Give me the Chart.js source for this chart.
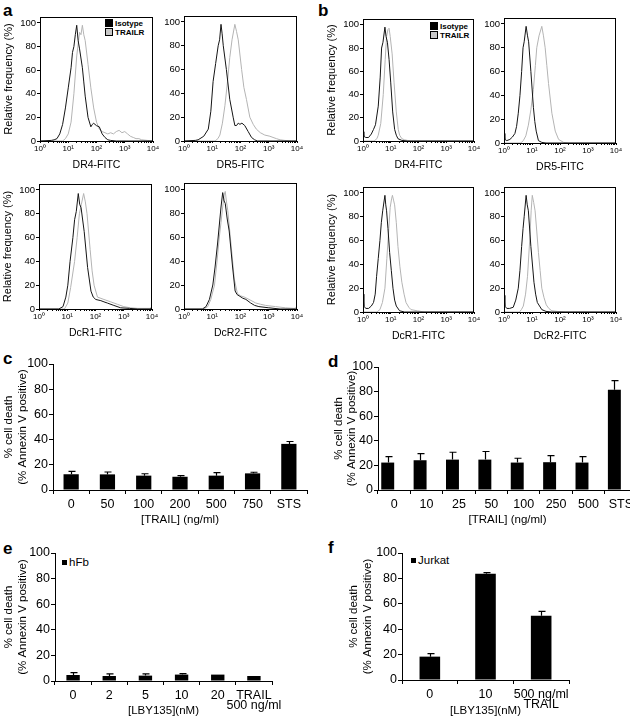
<!DOCTYPE html>
<html lang="en">
<head>
<meta charset="UTF-8">
<title>TRAIL receptors and cell death</title>
<script src="https://cdn.jsdelivr.net/npm/chart.js"></script>
<style>
  body { margin: 0; background: #fff; }
  #page { position: relative; width: 630px; height: 721px; overflow: hidden;
          font-family: "Liberation Sans", Arial, sans-serif; color: #000; }
  #page canvas { position: absolute; }
  .tag { position: absolute; font-weight: bold; font-size: 17px; line-height: 17px; }
  .key { position: absolute; font-size: 8px; font-weight: bold; line-height: 9px; white-space: nowrap; color: #000; }
  .key i { display: inline-block; width: 6px; height: 6px; border: 1px solid #000; margin-right: 2px; vertical-align: -1px; }
  .lg { position: absolute; font-size: 11.5px; line-height: 12px; white-space: nowrap; color: #000; }
  .lg i { display: inline-block; width: 5px; height: 5px; background: #000; margin-right: 2px; vertical-align: 1px; }
</style>
</head>
<body>
<div id="page">
  <div class="tag" style="left:3px;top:2px">a</div>
  <div class="tag" style="left:318px;top:2px">b</div>
  <div class="tag" style="left:3px;top:350px">c</div>
  <div class="tag" style="left:328px;top:353px">d</div>
  <div class="tag" style="left:3px;top:540px">e</div>
  <div class="tag" style="left:328px;top:539px">f</div>

  <div class="key" style="left:105px;top:19px"><i style="background:#000"></i>Isotype<br><i style="background:#c8c8c8"></i>TRAILR</div>
  <div class="key" style="left:430px;top:22px"><i style="background:#000"></i>Isotype<br><i style="background:#c8c8c8"></i>TRAILR</div>

  <div class="lg" style="left:62px;top:556px"><i></i>hFb</div>
  <div class="lg" style="left:411px;top:554px"><i></i>Jurkat</div>
</div>

<script>
// ---- panels a/b: flow cytometry histograms, [log10 FITC, relative frequency %]
const aDR4Iso = [[0,0],[0.4,0.5],[0.5,1],[0.6,2],[0.7,6],[0.8,14],[0.9,28],[1.0,45],[1.1,62],[1.15,75],[1.2,80],[1.25,90],[1.3,98],[1.35,85],[1.4,78],[1.5,62],[1.55,50],[1.6,38],[1.7,20],[1.8,12],[1.85,14],[1.9,15],[2.0,13],[2.1,12],[2.2,6],[2.3,3],[2.4,1],[2.5,0.5],[2.7,0],[4,0]];
const aDR4Trail = [[0,0],[0.8,0],[0.9,2],[1.0,6],[1.1,16],[1.2,40],[1.3,72],[1.4,92],[1.45,90],[1.5,98],[1.55,90],[1.6,85],[1.7,65],[1.8,45],[1.9,28],[2.0,16],[2.1,10],[2.2,8],[2.3,7],[2.4,6],[2.5,7],[2.6,6],[2.7,8],[2.8,9],[2.9,7],[3.0,8],[3.1,6],[3.2,4],[3.3,3],[3.4,2],[3.5,2],[3.6,1],[3.8,0.5],[4,0]];
const aDR5Iso = [[0,0],[0.4,0.5],[0.5,1],[0.7,4],[0.86,10],[0.95,25],[1.03,50],[1.12,65],[1.21,80],[1.26,85],[1.31,98],[1.35,90],[1.39,80],[1.5,60],[1.62,35],[1.74,20],[1.8,13],[1.86,13],[1.92,15],[1.98,14],[2.05,15],[2.15,13],[2.27,8],[2.39,3],[2.5,1],[2.6,0],[4,0]];
const aDR5Trail = [[0,0],[1.1,0],[1.2,2],[1.27,5],[1.36,15],[1.45,30],[1.54,50],[1.62,70],[1.7,85],[1.8,98],[1.86,92],[1.92,85],[2.04,60],[2.12,45],[2.21,35],[2.33,20],[2.45,14],[2.56,10],[2.7,7],[2.86,5],[3.04,4],[3.15,3],[3.27,2],[3.4,1],[3.56,0.5],[3.8,0],[4,0]];
const aDcR1Iso = [[0,0],[0.7,0],[0.85,2],[0.95,10],[1.02,20],[1.1,40],[1.2,60],[1.26,75],[1.32,82],[1.39,97],[1.44,88],[1.49,85],[1.6,65],[1.72,35],[1.84,15],[1.92,10],[2.01,8],[2.19,7],[2.3,6],[2.42,5],[2.65,3],[2.89,1],[3.2,0.5],[3.5,0],[3.95,0],[4,2]];
const aDcR1Trail = [[0,0],[0.9,0],[1.02,5],[1.12,18],[1.26,40],[1.35,60],[1.43,80],[1.5,88],[1.58,97],[1.64,90],[1.7,80],[1.81,50],[1.88,32],[1.95,20],[2.07,10],[2.3,8],[2.54,6],[2.77,4],[3.0,2],[3.24,1],[3.5,0.5],[3.95,0.5],[4,3]];
const aDcR2Iso = [[0,0],[0.65,0],[0.78,2],[0.9,8],[1.02,20],[1.1,35],[1.19,55],[1.25,70],[1.31,85],[1.37,97],[1.42,90],[1.46,88],[1.53,75],[1.6,65],[1.72,35],[1.81,15],[1.88,12],[1.95,11],[2.08,9],[2.19,8],[2.36,5],[2.5,3],[2.65,2],[3.0,1],[3.4,0],[4,0]];
const aDcR2Trail = [[0,0],[0.7,0],[0.84,2],[0.95,8],[1.08,20],[1.17,40],[1.25,60],[1.31,72],[1.37,85],[1.42,95],[1.46,98],[1.5,90],[1.55,82],[1.66,55],[1.78,25],[1.89,13],[2.0,11],[2.13,10],[2.3,8],[2.54,5],[2.7,4],[2.89,3],[3.24,2],[3.6,1],[3.9,0.5],[3.97,1],[4,4]];

const bDR4Iso = [[0,8],[0.03,4],[0.1,3],[0.2,3],[0.3,6],[0.38,10],[0.45,14],[0.55,30],[0.62,55],[0.67,80],[0.72,85],[0.79,98],[0.83,90],[0.88,85],[0.94,70],[1.0,50],[1.07,25],[1.14,10],[1.2,5],[1.26,2],[1.4,0.5],[1.6,0],[4,0]];
const bDR4Trail = [[0,0],[0.4,0],[0.5,2],[0.55,5],[0.64,15],[0.73,40],[0.8,70],[0.85,90],[0.9,96],[0.94,97],[0.98,90],[1.05,75],[1.12,50],[1.2,25],[1.27,10],[1.32,5],[1.4,2],[1.5,1],[1.7,0],[4,0]];
const bDR5Iso = [[0,8],[0.03,3],[0.1,2],[0.21,3],[0.3,5],[0.39,8],[0.45,14],[0.51,25],[0.57,40],[0.63,60],[0.68,80],[0.72,85],[0.79,98],[0.84,90],[0.88,85],[0.96,60],[1.05,30],[1.1,18],[1.15,10],[1.23,2],[1.35,0.5],[1.5,0],[4,0]];
const bDR5Trail = [[0,0],[0.6,0],[0.69,2],[0.78,6],[0.87,15],[0.96,28],[1.05,45],[1.12,65],[1.17,80],[1.25,90],[1.35,98],[1.41,90],[1.47,80],[1.53,65],[1.59,50],[1.71,25],[1.83,10],[1.95,3],[2.13,0.5],[2.3,0],[4,0]];
const bDcR1Iso = [[0,15],[0.03,5],[0.1,3],[0.2,3],[0.3,5],[0.38,8],[0.44,15],[0.49,30],[0.55,45],[0.61,60],[0.66,75],[0.71,85],[0.79,98],[0.82,90],[0.85,85],[0.9,70],[0.96,50],[1.02,35],[1.08,20],[1.14,10],[1.2,5],[1.32,1],[1.5,0],[4,0]];
const bDcR1Trail = [[0,0],[0.5,0],[0.61,2],[0.7,8],[0.79,20],[0.86,45],[0.93,70],[0.98,88],[1.03,95],[1.06,98],[1.1,94],[1.14,90],[1.2,75],[1.26,55],[1.33,38],[1.4,25],[1.48,15],[1.55,8],[1.65,4],[1.73,2],[1.96,1],[2.2,0],[4,0]];
const bDcR2Iso = [[0,14],[0.03,5],[0.1,3],[0.2,3],[0.33,4],[0.42,10],[0.51,20],[0.57,35],[0.63,55],[0.68,70],[0.72,80],[0.79,98],[0.83,90],[0.87,85],[0.96,55],[1.07,25],[1.13,15],[1.19,8],[1.35,2],[1.5,0.5],[1.7,0],[4,0]];
const bDcR2Trail = [[0,0],[0.55,0],[0.62,2],[0.69,5],[0.77,15],[0.84,30],[0.93,65],[0.97,85],[1.01,98],[1.06,92],[1.11,85],[1.17,68],[1.23,50],[1.29,35],[1.35,20],[1.43,12],[1.51,6],[1.6,3],[1.71,1],[1.9,0.5],[2.2,0],[4,0]];

// ---- panels c-f: % cell death (mean, upper error)
const cLabels = ['0', '50', '100', '200', '500', '750', 'STS'];
const cMean = [12.5, 12.4, 11.4, 10.5, 11.4, 13.2, 36.6];
const cErr = [2.3, 1.9, 1.5, 0.9, 2.4, 0.9, 1.9];

const dLabels = ['0', '10', '25', '50', '100', '250', '500', 'STS'];
const dMean = [22.3, 24.2, 24.7, 24.7, 22.3, 22.6, 22.3, 81.5];
const dErr = [4.9, 5.4, 6.0, 6.6, 3.5, 5.4, 4.9, 7.4];

const eLabels = ['0', '2', '5', '10', '20', ['TRAIL', '500 ng/ml']];
const eMean = [4.7, 3.9, 4.2, 5.0, 5.0, 3.9];
const eErr = [1.8, 1.6, 1.3, 0.8, 0, 0];

const fLabels = ['0', '10', ['500 ng/ml', 'TRAIL']];
const fMean = [18.4, 83.7, 50.5];
const fErr = [2.4, 0.8, 3.5];

const yTitle = ['% cell death', '(% Annexin V positive)'];

Chart.defaults.font.family = '"Liberation Sans", Arial, sans-serif';
Chart.defaults.color = '#000';
Chart.defaults.animation = false;
Chart.defaults.plugins.legend.display = false;
Chart.defaults.plugins.tooltip.enabled = false;

const page = document.getElementById('page');

function mount(x, y, w, h, config) {
    const cv = document.createElement('canvas');
    cv.width = w; cv.height = h;
    cv.style.left = x + 'px'; cv.style.top = y + 'px';
    cv.style.width = w + 'px'; cv.style.height = h + 'px';
    page.appendChild(cv);
    config.options.responsive = false;
    return new Chart(cv, config);
}

// box around histogram plots
const framePlugin = {
    id: 'frame',
    afterDraw(chart) {
        const {ctx, chartArea: a} = chart;
        ctx.save();
        ctx.strokeStyle = '#000';
        ctx.lineWidth = 1;
        ctx.strokeRect(Math.round(a.left) + 0.5, Math.round(a.top) + 0.5,
                       Math.round(a.right - a.left) - 1, Math.round(a.bottom - a.top));
        ctx.restore();
    }
};

// upward error bars with a cap
const errPlugin = {
    id: 'errbars',
    afterDatasetsDraw(chart, args, opts) {
        if (!opts.values) return;
        const {ctx} = chart;
        const y = chart.scales.y;
        const meta = chart.getDatasetMeta(0);
        const vals = chart.data.datasets[0].data;
        ctx.save();
        ctx.strokeStyle = '#000';
        ctx.lineWidth = 1.2;
        meta.data.forEach((bar, i) => {
            const e = opts.values[i];
            if (!e) return;
            const top = y.getPixelForValue(vals[i] + e);
            const x = Math.round(bar.x) + 0.5;
            ctx.beginPath();
            ctx.moveTo(x, bar.y);
            ctx.lineTo(x, top);
            ctx.moveTo(x - 3, top);
            ctx.lineTo(x + 4, top);
            ctx.stroke();
        });
        ctx.restore();
    }
};

const sup = ['\u2070', '\u00b9', '\u00b2', '\u00b3', '\u2074'];
const logTicks = [];
for (let e = 0; e < 4; e++) for (let m = 1; m < 10; m++) logTicks.push(m * 10 ** e);
logTicks.push(10000);
const pctTicks = [0, 20, 40, 60, 80, 100];

function histo(area, iso, trail, xTitle, withTitle) {
    const yW = withTitle ? 40 : 24;
    const padT = 8, padR = 10, xH = 32;
    const x0 = area.l - yW, y0 = area.t - padT;
    const w = yW + (area.r - area.l) + padR;
    const h = padT + (area.b - area.t) + xH;
    const toXY = pts => pts.map(([d, v]) => ({x: 10 ** d, y: v}));
    return mount(x0, y0, w, h, {
        type: 'line',
        data: {
            datasets: [
                {label: 'Isotype', data: toXY(iso), borderColor: '#151515', borderWidth: 1},
                {label: 'TRAILR', data: toXY(trail), borderColor: '#b4b4b4', borderWidth: 1}
            ]
        },
        options: {
            layout: {padding: {left: 0, top: padT, right: padR, bottom: 0}},
            elements: {point: {radius: 0}, line: {tension: 0}},
            scales: {
                x: {
                    type: 'logarithmic', min: 1, max: 10000,
                    afterBuildTicks: s => { s.ticks = logTicks.map(v => ({value: v})); },
                    afterFit: s => { s.height = xH; },
                    ticks: {
                        autoSkip: false, maxRotation: 0, padding: 1, color: '#000',
                        font: {size: 8},
                        callback: v => {
                            const e = Math.round(Math.log10(v));
                            return 10 ** e === v ? '10' + sup[e] : '';
                        }
                    },
                    grid: {drawOnChartArea: false, tickLength: 2, color: '#000'},
                    border: {display: false},
                    title: {display: true, text: xTitle, color: '#000', font: {size: 10.5}, padding: {top: 0, bottom: 2}}
                },
                y: {
                    min: 0, max: 105,
                    afterBuildTicks: s => { s.ticks = pctTicks.map(v => ({value: v})); },
                    afterFit: s => { s.width = yW; },
                    ticks: {font: {size: 9.5}, padding: 1, color: '#000'},
                    grid: {drawOnChartArea: false, tickLength: 3, color: '#000'},
                    border: {display: false},
                    title: {display: withTitle, text: 'Relative frequency (%)', color: '#000', font: {size: 11}, padding: {top: 2.5, bottom: 0}}
                }
            }
        },
        plugins: [framePlugin]
    });
}

histo({l: 40, t: 17, r: 153, b: 141}, aDR4Iso, aDR4Trail, 'DR4-FITC', true);
histo({l: 184, t: 16, r: 297, b: 141}, aDR5Iso, aDR5Trail, 'DR5-FITC', false);
histo({l: 39, t: 184, r: 152, b: 309}, aDcR1Iso, aDcR1Trail, 'DcR1-FITC', true);
histo({l: 184, t: 183, r: 297, b: 309}, aDcR2Iso, aDcR2Trail, 'DcR2-FITC', false);
histo({l: 363, t: 19, r: 474, b: 141}, bDR4Iso, bDR4Trail, 'DR4-FITC', true);
histo({l: 504, t: 18, r: 616, b: 143}, bDR5Iso, bDR5Trail, 'DR5-FITC', false);
histo({l: 363, t: 187, r: 474, b: 312}, bDcR1Iso, bDcR1Trail, 'DcR1-FITC', true);
histo({l: 504, t: 187, r: 616, b: 312}, bDcR2Iso, bDcR2Trail, 'DcR2-FITC', false);

// cv = canvas rect on the page, area = plot rect on the page
function bars(cv, area, labels, mean, err, o) {
    const yW = area.l - cv.x - o.padL;
    const xH = cv.y + cv.h - area.b - o.padB;
    const datasets = [{data: mean, backgroundColor: '#000', barPercentage: o.barPct, categoryPercentage: o.catPct}];
    if (o.spacer) datasets.push({data: mean.map(() => null), barPercentage: o.barPct, categoryPercentage: o.catPct});
    return mount(cv.x, cv.y, cv.w, cv.h, {
        type: 'bar',
        data: {labels: labels, datasets: datasets},
        options: {
            layout: {padding: {left: o.padL, top: area.t - cv.y, right: cv.x + cv.w - area.r, bottom: o.padB}},
            scales: {
                x: {
                    afterFit: s => { s.height = xH; },
                    ticks: {autoSkip: false, maxRotation: 0, padding: 5, color: '#000', font: {size: 12.5, lineHeight: 0.85}},
                    grid: {drawOnChartArea: false, tickLength: 4, color: '#000', offset: true},
                    border: {color: '#000'},
                    title: {display: true, text: o.xTitle, color: '#000', font: {size: 11.5}, padding: {top: 0, bottom: o.titleBottom}}
                },
                y: {
                    min: 0, max: 100,
                    afterBuildTicks: s => { s.ticks = pctTicks.map(v => ({value: v})); },
                    afterFit: s => { s.width = yW; },
                    ticks: {font: {size: 12.5}, padding: 1, color: '#000'},
                    grid: {drawOnChartArea: false, tickLength: 4, color: '#000'},
                    border: {color: '#000'},
                    title: {display: true, text: yTitle, color: '#000', font: {size: 11.5}, padding: {top: o.titlePad, bottom: 0}}
                }
            },
            plugins: {errbars: {values: err}}
        },
        plugins: [errPlugin]
    });
}

bars({x: 0, y: 350, w: 315, h: 180}, {l: 53, t: 364, r: 307, b: 490}, cLabels, cMean, cErr,
     {padL: 0, padB: 0, titlePad: 2, titleBottom: 3, barPct: 0.42, catPct: 1, xTitle: '[TRAIL] (ng/ml)'});
bars({x: 315, y: 350, w: 323, h: 180}, {l: 378, t: 367, r: 638, b: 490}, dLabels, dMean, dErr,
     {padL: 16, padB: 0, titlePad: 0.5, titleBottom: 3, barPct: 1, catPct: 0.8, spacer: true, xTitle: '[TRAIL] (ng/ml)'});
bars({x: 0, y: 540, w: 315, h: 181}, {l: 55, t: 553, r: 272, b: 681}, eLabels, eMean, eErr,
     {padL: 0, padB: 0, titlePad: 2, titleBottom: 3, barPct: 0.37, catPct: 1, xTitle: '[LBY135](nM)'});
bars({x: 315, y: 540, w: 315, h: 181}, {l: 402, t: 553, r: 569, b: 680}, fLabels, fMean, fErr,
     {padL: 30, padB: 0, titlePad: 2, titleBottom: 3, barPct: 0.37, catPct: 1, xTitle: '[LBY135](nM)'});
</script>
</body>
</html>
